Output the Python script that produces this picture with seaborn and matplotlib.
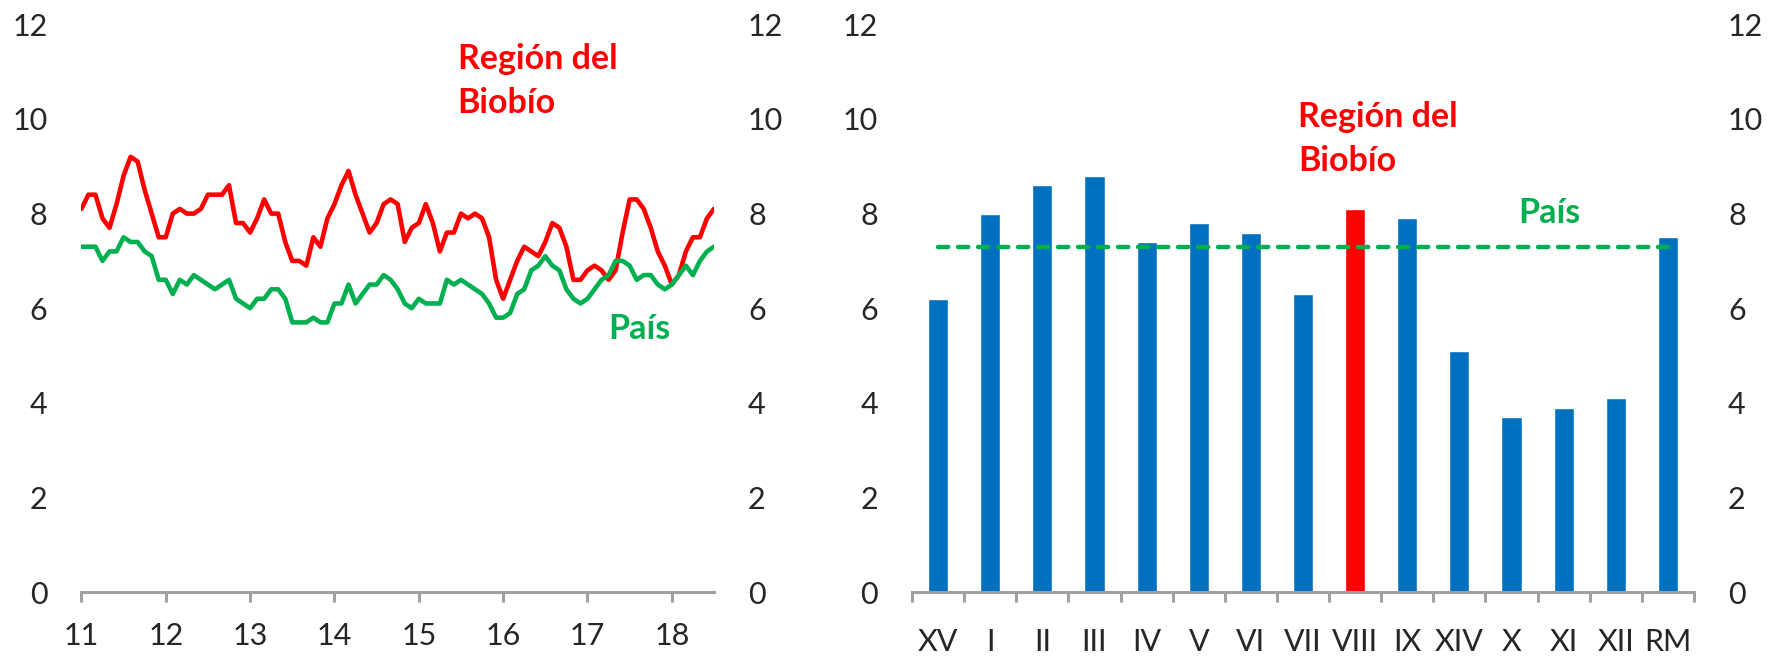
import numpy as np
import pandas as pd
import matplotlib
matplotlib.use("Agg")
import matplotlib.pyplot as plt
import seaborn as sns

# Tasa de desocupación mensual (trimestres móviles), enero 2011 - julio 2018
fechas = pd.date_range("2011-01-01", periods=91, freq="MS")
tasa_biobio = [
    8.1, 8.4, 8.4, 7.9, 7.7, 8.2, 8.8, 9.2, 9.1, 8.5, 8.0, 7.5,
    7.5, 8.0, 8.1, 8.0, 8.0, 8.1, 8.4, 8.4, 8.4, 8.6, 7.8, 7.8,
    7.6, 7.9, 8.3, 8.0, 8.0, 7.4, 7.0, 7.0, 6.9, 7.5, 7.3, 7.9,
    8.2, 8.6, 8.9, 8.4, 8.0, 7.6, 7.8, 8.2, 8.3, 8.2, 7.4, 7.7,
    7.8, 8.2, 7.8, 7.2, 7.6, 7.6, 8.0, 7.9, 8.0, 7.9, 7.5, 6.6,
    6.2, 6.6, 7.0, 7.3, 7.2, 7.1, 7.4, 7.8, 7.7, 7.3, 6.6, 6.6,
    6.8, 6.9, 6.8, 6.6, 6.8, 7.6, 8.3, 8.3, 8.1, 7.7, 7.2, 6.9,
    6.5, 6.7, 7.2, 7.5, 7.5, 7.9, 8.1,
]
tasa_pais_serie = [
    7.3, 7.3, 7.3, 7.0, 7.2, 7.2, 7.5, 7.4, 7.4, 7.2, 7.1, 6.6,
    6.6, 6.3, 6.6, 6.5, 6.7, 6.6, 6.5, 6.4, 6.5, 6.6, 6.2, 6.1,
    6.0, 6.2, 6.2, 6.4, 6.4, 6.2, 5.7, 5.7, 5.7, 5.8, 5.7, 5.7,
    6.1, 6.1, 6.5, 6.1, 6.3, 6.5, 6.5, 6.7, 6.6, 6.4, 6.1, 6.0,
    6.2, 6.1, 6.1, 6.1, 6.6, 6.5, 6.6, 6.5, 6.4, 6.3, 6.1, 5.8,
    5.8, 5.9, 6.3, 6.4, 6.8, 6.9, 7.1, 6.9, 6.8, 6.4, 6.2, 6.1,
    6.2, 6.4, 6.6, 6.7, 7.0, 7.0, 6.9, 6.6, 6.7, 6.7, 6.5, 6.4,
    6.5, 6.7, 6.9, 6.7, 7.0, 7.2, 7.3,
]
anios_eje = [2011, 2012, 2013, 2014, 2015, 2016, 2017, 2018]
etiquetas_anios = ["11", "12", "13", "14", "15", "16", "17", "18"]

# Tasa de desocupación por región, último trimestre
regiones = ["XV", "I", "II", "III", "IV", "V", "VI", "VII", "VIII",
            "IX", "XIV", "X", "XI", "XII", "RM"]
tasas_regiones = [6.2, 8.0, 8.6, 8.8, 7.4, 7.8, 7.6, 6.3, 8.1,
                  7.9, 5.1, 3.7, 3.9, 4.1, 7.5]
tasa_pais = 7.3
region_destacada = "VIII"

ROJO = "#FF0000"
VERDE = "#00B050"
AZUL = "#0070C0"
GRIS = "#A0A0A0"

sns.set_theme(style="white")
plt.rcParams["font.family"] = ["Lato", "DejaVu Sans"]
FS = 22
FS_NOTA = 24.5

fig = plt.figure(figsize=(17.75, 6.57), dpi=100)
ax1 = fig.add_axes([81.4 / 1775, 65 / 657, 632.6 / 1775, 567.6 / 657])
ax2 = fig.add_axes([912 / 1775, 65 / 657, 782 / 1775, 567.6 / 657])

# ---- panel izquierdo: evolución mensual ----
decimal = fechas.year + (fechas.month - 1) / 12
df = pd.DataFrame({
    "fecha": np.concatenate([decimal, decimal]),
    "tasa": tasa_biobio + tasa_pais_serie,
    "serie": ["Región del Biobío"] * len(tasa_biobio) + ["País"] * len(tasa_pais_serie),
})
sns.lineplot(data=df, x="fecha", y="tasa", hue="serie",
             palette={"Región del Biobío": ROJO, "País": VERDE},
             linewidth=3.3, legend=False, ax=ax1)
ax1.set_xlim(2011, 2018.5)
ax1.set_xticks(anios_eje)
ax1.set_xticklabels(etiquetas_anios)
ax1.tick_params(axis="x", direction="out", length=7.2, width=2.2,
                color=GRIS, pad=14.5, labelsize=FS, bottom=True)

ax1.text(2015.46, 11.6, "Región del\nBiobío", color=ROJO, fontsize=FS_NOTA,
         fontweight="bold", ha="left", va="top", linespacing=1.45)
ax1.text(2017.245, 5.9, "País", color=VERDE, fontsize=FS_NOTA,
         fontweight="bold", ha="left", va="top")

# ---- panel derecho: regiones ----
colores = {r: (ROJO if r == region_destacada else AZUL) for r in regiones}
sns.barplot(x=regiones, y=tasas_regiones, hue=regiones, palette=colores,
            width=0.385, saturation=1, legend=False, ax=ax2, zorder=2)
pos = np.arange(len(regiones))
ax2.plot(pos, np.full(len(regiones), tasa_pais), color=VERDE, lw=3.2,
         dashes=(2.3, 2.2), dash_capstyle="round", zorder=3)
ax2.set_xlim(-0.5, len(regiones) - 0.5)
ax2.set_xticks(np.arange(-0.5, len(regiones), 1), minor=True)
ax2.tick_params(axis="x", which="minor", direction="out", length=7.2,
                width=2.2, color=GRIS, bottom=True)
ax2.tick_params(axis="x", which="major", length=0, pad=26, labelsize=FS)

ax2.text(6.905, 10.38, "Región del\nBiobío", color=ROJO, fontsize=FS_NOTA,
         fontweight="bold", ha="left", va="top", linespacing=1.45)
ax2.text(11.12, 8.36, "País", color=VERDE, fontsize=FS_NOTA,
         fontweight="bold", ha="left", va="top")

for ax in (ax1, ax2):
    ax.set_ylim(0, 12)
    ax.set_yticks(range(0, 13, 2))
    ax.tick_params(axis="y", length=0, pad=24.5, labelsize=FS,
                   labelleft=True, labelright=True)
    ax.set_xlabel("")
    ax.set_ylabel("")
    for side in ("top", "left", "right"):
        ax.spines[side].set_visible(False)
    ax.spines["bottom"].set_color(GRIS)
    ax.spines["bottom"].set_linewidth(2.2)
    ax.set_facecolor("none")
    ax.grid(False)

fig.savefig("out.png", dpi=100, facecolor="white")
